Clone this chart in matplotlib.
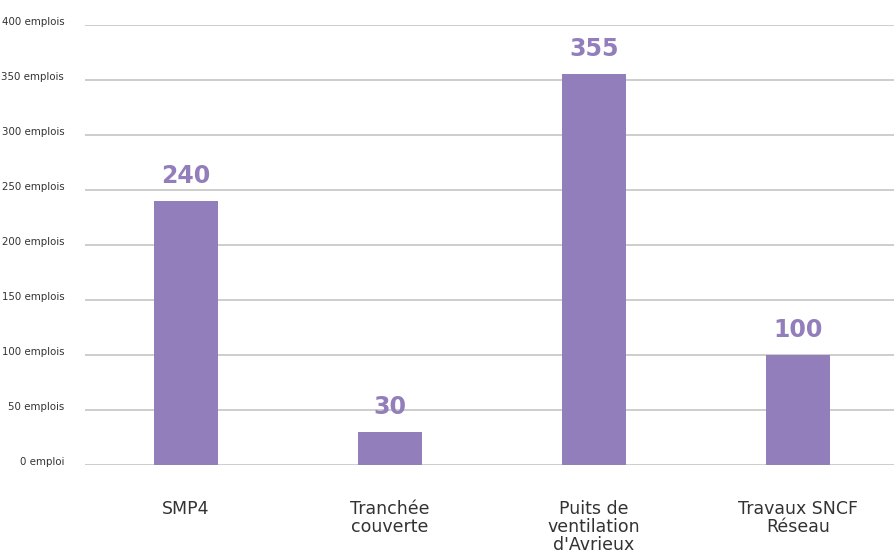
import matplotlib.pyplot as plt
from matplotlib.transforms import ScaledTranslation

categories = ["SMP4", "Tranchée\ncouverte", "Puits de\nventilation\nd'Avrieux", "Travaux SNCF\nRéseau"]
values = [240, 30, 355, 100]
yticks = [0, 50, 100, 150, 200, 250, 300, 350, 400]
ytick_labels = ["0 emploi"] + [f"{v} emplois" for v in yticks[1:]]

purple = "#927ebb"
grid_gray = "#c9c9c9"

fig = plt.figure(figsize=(8.95, 5.53), dpi=100)
ax = fig.add_axes([85 / 895, 88 / 553, 810 / 895, 440 / 553])

x = list(range(len(categories)))
ax.bar(x, values, width=0.31, color=purple, zorder=3)
for xi, v in zip(x, values):
    ax.text(xi, v + 12, str(v), ha="center", va="bottom", color=purple,
            fontsize=17, fontweight="bold", family="DejaVu Sans", zorder=4)

ax.set_ylim(0, 400)
ax.set_xlim(-0.495, 3.475)
ax.set_yticks(yticks)
ax.set_yticklabels(ytick_labels, family="DejaVu Sans", stretch="condensed",
                   fontsize=8.2, color="#333333")
ax.set_xticks(x)
ax.set_xticklabels(categories, family="DejaVu Sans", fontsize=12.5, color="#333333",
                   linespacing=1.0, va="top")
ax.tick_params(axis="y", length=0, pad=15)
ax.tick_params(axis="x", length=0, pad=25)
# y labels sit a little above their gridline in the original
shift = ScaledTranslation(0, 0.04, fig.dpi_scale_trans)
for lab in ax.get_yticklabels():
    lab.set_transform(lab.get_transform() + shift)
ax.grid(axis="y", color=grid_gray, linewidth=1.3, zorder=0)
for s in ax.spines.values():
    s.set_visible(False)

fig.savefig("out.png", dpi=100)
